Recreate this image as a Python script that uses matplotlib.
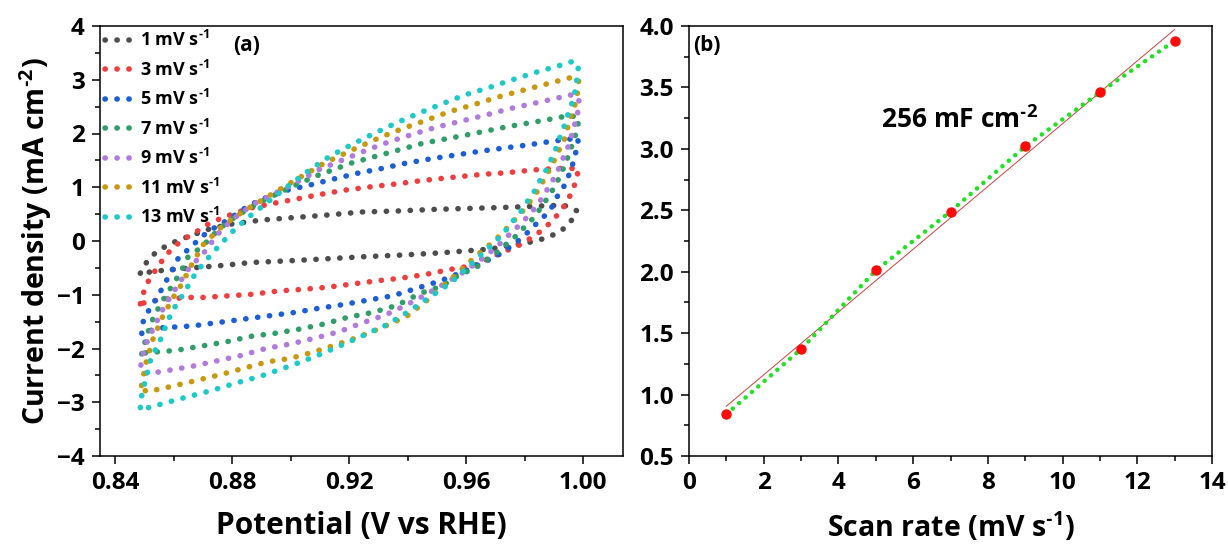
import numpy as np
import matplotlib
matplotlib.use('Agg')
import matplotlib.pyplot as plt
from matplotlib.ticker import MultipleLocator

plt.rcParams['font.family'] = ['Open Sans', 'DejaVu Sans']
plt.rcParams['font.weight'] = 'bold'
plt.rcParams['mathtext.fontset'] = 'custom'
plt.rcParams['mathtext.rm'] = 'Open Sans:bold'
plt.rcParams['mathtext.bf'] = 'Open Sans:bold'
plt.rcParams['mathtext.it'] = 'Open Sans:bold'

HY = '\u2010'  # short hyphen for the superscripts

# ---- panel (a): CV loops (V vs RHE, mA cm-2) ----
v_1 = [0.8485, 0.8506, 0.8533, 0.8568, 0.8609, 0.8648, 0.872, 0.879, 0.890, 0.9117, 0.9245,
       0.9372, 0.950, 0.9635, 0.976, 0.9893, 0.9937, 0.998, 0.996, 0.9928, 0.9889, 0.9851,
       0.9812, 0.977, 0.9682, 0.9514, 0.9387, 0.9259, 0.9125, 0.8988, 0.8863, 0.8777, 0.864,
       0.8557, 0.8485]
j_1 = [-0.60, -0.40, -0.24, -0.11, 0.00, 0.08, 0.22, 0.31, 0.39, 0.48, 0.54, 0.56, 0.59,
       0.61, 0.63, 0.66, 0.66, 0.56, 0.38, 0.20, 0.09, 0.02, -0.03, -0.07, -0.15, -0.22,
       -0.26, -0.29, -0.33, -0.37, -0.40, -0.45, -0.51, -0.55, -0.60]

v_3 = [0.8485, 0.8496, 0.8513, 0.8536, 0.8559, 0.8584, 0.8611, 0.8645, 0.8682, 0.8708, 0.876,
       0.8815, 0.8868, 0.894, 0.9018, 0.9104, 0.919, 0.9276, 0.9358, 0.9442, 0.9528, 0.9654,
       0.974, 0.9824, 0.991, 0.9985, 0.9977, 0.9963, 0.9943, 0.992, 0.9892, 0.986, 0.9826,
       0.9789, 0.9751, 0.970, 0.9629, 0.9545, 0.9463, 0.9379, 0.9296, 0.921, 0.9127, 0.9041,
       0.8957, 0.8871, 0.8786, 0.870, 0.8651, 0.857, 0.852, 0.8485]
j_3 = [-1.17, -0.96, -0.74, -0.55, -0.37, -0.20, -0.06, 0.07, 0.19, 0.29, 0.42, 0.53, 0.62,
       0.70, 0.78, 0.87, 0.95, 1.01, 1.06, 1.12, 1.17, 1.24, 1.27, 1.32, 1.35, 1.35, 1.13,
       0.92, 0.71, 0.53, 0.36, 0.20, 0.07, -0.06, -0.15, -0.27, -0.45, -0.53, -0.62, -0.69,
       -0.74, -0.80, -0.86, -0.90, -0.93, -0.99, -1.02, -1.05, -1.05, -1.08, -1.12, -1.17]

v_5 = [0.849, 0.8493, 0.8515, 0.854, 0.856, 0.8588, 0.8614, 0.865, 0.868, 0.8715, 0.8787,
       0.884, 0.8892, 0.8983, 0.9064, 0.9144, 0.9228, 0.9312, 0.9396, 0.948, 0.9565, 0.9648,
       0.9731, 0.9816, 0.9899, 0.9947, 0.9985, 0.9977, 0.9968, 0.9954, 0.9939, 0.9916, 0.9896,
       0.9871, 0.9842, 0.9813, 0.9782, 0.9748, 0.971, 0.9666, 0.9591, 0.9513, 0.9431, 0.9348,
       0.9264, 0.9182, 0.9098, 0.9012, 0.8914, 0.8829, 0.8747, 0.8663, 0.8545, 0.849]
j_5 = [-1.72, -1.52, -1.28, -1.07, -0.88, -0.60, -0.33, -0.15, 0.00, 0.17, 0.40, 0.60, 0.76,
       0.94, 1.04, 1.15, 1.26, 1.35, 1.45, 1.53, 1.60, 1.67, 1.73, 1.79, 1.86, 1.89, 1.92,
       1.69, 1.48, 1.26, 1.05, 0.87, 0.65, 0.48, 0.33, 0.17, 0.02, -0.12, -0.26, -0.38, -0.57,
       -0.74, -0.88, -1.02, -1.10, -1.18, -1.25, -1.33, -1.40, -1.46, -1.52, -1.58, -1.62, -1.72]

v_7 = [0.849, 0.850, 0.8513, 0.853, 0.856, 0.8593, 0.8623, 0.8648, 0.8695, 0.8727, 0.876,
       0.881, 0.8889, 0.900, 0.9087, 0.9207, 0.9327, 0.9453, 0.958, 0.9662, 0.9745, 0.9829,
       0.9913, 0.9954, 0.9986, 0.998, 0.9954, 0.9939, 0.9922, 0.9901, 0.988, 0.9856, 0.9831,
       0.9802, 0.977, 0.9737, 0.9705, 0.9637, 0.9568, 0.9528, 0.9486, 0.9444, 0.9405, 0.9362,
       0.9279, 0.9195, 0.9109, 0.9029, 0.8943, 0.8867, 0.8784, 0.870, 0.8612, 0.8557, 0.851,
       0.849]
j_7 = [-2.10, -1.90, -1.67, -1.42, -1.12, -0.84, -0.58, -0.30, -0.11, 0.07, 0.25, 0.45, 0.71,
       1.00, 1.21, 1.45, 1.63, 1.82, 1.95, 2.04, 2.13, 2.21, 2.29, 2.34, 2.29, 2.07, 1.64,
       1.43, 1.21, 0.99, 0.81, 0.62, 0.43, 0.27, 0.09, -0.06, -0.21, -0.48, -0.66, -0.80,
       -0.90, -0.97, -1.08, -1.20, -1.33, -1.42, -1.55, -1.64, -1.72, -1.77, -1.87, -1.95,
       -2.03, -2.06, -2.07, -2.10]

v_9 = [0.8487, 0.8495, 0.8507, 0.853, 0.8567, 0.861, 0.865, 0.8705, 0.8752, 0.880, 0.887,
       0.8995, 0.9098, 0.9259, 0.9339, 0.9419, 0.950, 0.9583, 0.9665, 0.9748, 0.9831, 0.9913,
       0.9955, 0.9986, 0.9986, 0.9978, 0.9952, 0.9935, 0.992, 0.9901, 0.9878, 0.9855, 0.9832,
       0.9803, 0.9772, 0.974, 0.9709, 0.965, 0.958, 0.9471, 0.9396, 0.9322, 0.9241, 0.9164,
       0.9081, 0.8995, 0.8914, 0.883, 0.8747, 0.8663, 0.8578, 0.8533, 0.8494, 0.8487]
j_9 = [-2.31, -2.10, -1.89, -1.62, -1.22, -0.85, -0.52, -0.20, 0.14, 0.40, 0.68, 1.02, 1.33,
       1.69, 1.85, 1.99, 2.12, 2.23, 2.34, 2.46, 2.56, 2.66, 2.72, 2.67, 2.49, 2.29, 1.79,
       1.58, 1.38, 1.17, 0.96, 0.76, 0.59, 0.41, 0.24, 0.08, -0.09, -0.35, -0.62, -0.97,
       -1.19, -1.38, -1.53, -1.69, -1.81, -1.92, -2.00, -2.13, -2.23, -2.33, -2.41, -2.45,
       -2.46, -2.31]

v_11 = [0.8489, 0.8497, 0.8505, 0.8528, 0.8562, 0.8604, 0.8625, 0.866, 0.870, 0.873, 0.8758,
        0.881, 0.887, 0.899, 0.9115, 0.9228, 0.9307, 0.9387, 0.9465, 0.9545, 0.9628, 0.971,
        0.9792, 0.9875, 0.9958, 0.9986, 0.9978, 0.9958, 0.9948, 0.9938, 0.9917, 0.990, 0.988,
        0.9858, 0.9838, 0.9813, 0.9787, 0.9755, 0.9728, 0.9698, 0.963, 0.955, 0.9467, 0.9397,
        0.932, 0.9241, 0.9161, 0.9081, 0.9001, 0.8919, 0.8837, 0.8757, 0.8672, 0.8588, 0.8548,
        0.8504, 0.8489]
j_11 = [-2.69, -2.47, -2.26, -1.83, -1.40, -0.99, -0.82, -0.45, -0.07, 0.09, 0.24, 0.45, 0.66,
        1.05, 1.45, 1.74, 1.93, 2.10, 2.25, 2.41, 2.54, 2.68, 2.80, 2.92, 3.04, 3.01, 2.62,
        2.31, 2.12, 1.91, 1.68, 1.48, 1.27, 1.06, 0.87, 0.69, 0.51, 0.33, 0.17, 0.01, -0.30,
        -0.70, -1.10, -1.40, -1.59, -1.77, -1.92, -2.06, -2.18, -2.25, -2.37, -2.49, -2.60,
        -2.71, -2.76, -2.80, -2.69]

v_13 = [0.8485, 0.849, 0.850, 0.8512, 0.8522, 0.854, 0.8557, 0.8574, 0.8591, 0.8612, 0.8636,
        0.8656, 0.8678, 0.8707, 0.8736, 0.8763, 0.8805, 0.8857, 0.8995, 0.9064, 0.9132, 0.9207,
        0.9281, 0.9358, 0.9439, 0.9517, 0.9597, 0.9676, 0.9758, 0.984, 0.9923, 0.9964, 0.9985,
        0.9974, 0.9964, 0.995, 0.9936, 0.9922, 0.9908, 0.9891, 0.9874, 0.985, 0.9833, 0.9809,
        0.9785, 0.9757, 0.9729, 0.970, 0.9669, 0.9603, 0.9547, 0.9474, 0.9401, 0.9328, 0.9251,
        0.9177, 0.9096, 0.9035, 0.8974, 0.8894, 0.8814, 0.873, 0.8646, 0.8558, 0.852, 0.8485]
j_13 = [-3.10, -2.87, -2.64, -2.40, -2.17, -1.99, -1.80, -1.56, -1.34, -1.15, -0.96, -0.76,
        -0.57, -0.38, -0.20, -0.04, 0.20, 0.45, 1.04, 1.32, 1.57, 1.79, 1.99, 2.19, 2.38, 2.55,
        2.72, 2.85, 3.00, 3.14, 3.27, 3.34, 3.27, 2.81, 2.59, 2.38, 2.14, 1.94, 1.73, 1.52,
        1.32, 1.10, 0.92, 0.73, 0.53, 0.35, 0.15, -0.01, -0.17, -0.50, -0.78, -1.05, -1.32,
        -1.56, -1.75, -1.93, -2.12, -2.25, -2.37, -2.52, -2.64, -2.78, -2.90, -3.03, -3.10,
        -3.10]

cv_rates = ['1', '3', '5', '7', '9', '11', '13']
cv_colors = ['#4d4d4d', '#ef3e3e', '#1c5fd4', '#2f9e68', '#b17bdd', '#c8980f', '#1dc9c9']
cv_v = [v_1, v_3, v_5, v_7, v_9, v_11, v_13]
cv_j = [j_1, j_3, j_5, j_7, j_9, j_11, j_13]

# ---- panel (b): current vs scan rate ----
scan_rate = np.array([1, 3, 5, 7, 9, 11, 13])
current = np.array([0.84, 1.37, 2.01, 2.49, 3.02, 3.46, 3.88])

fig = plt.figure(figsize=(12.28, 5.48), dpi=100)
ax1 = fig.add_axes([100 / 1228, 92 / 548, 523 / 1228, 430 / 548])
ax2 = fig.add_axes([689 / 1228, 92 / 548, 523 / 1228, 430 / 548])

for v, j, c, r in zip(cv_v, cv_j, cv_colors, cv_rates):
    ax1.plot(v, j, color=c, lw=4, linestyle=(0, (0.05, 2.1)),
             dash_capstyle='round', label=r + ' mV s$^{' + HY + '1}$')

ax1.set_xlim(0.8347, 1.0137)
ax1.set_ylim(-4, 4)
ax1.xaxis.set_minor_locator(MultipleLocator(0.02))
ax1.yaxis.set_major_locator(MultipleLocator(1))
ax1.yaxis.set_minor_locator(MultipleLocator(0.5))
ax1.set_xticks([0.84, 0.88, 0.92, 0.96, 1.00])
ax1.set_xticklabels(['0.84', '0.88', '0.92', '0.96', '1.00'])
ax1.set_xlabel('Potential (V vs RHE)', fontsize=21.5, fontweight='bold', labelpad=11)
ax1.set_ylabel('Current density (mA cm$^{' + HY + '2}$)', fontsize=20.5, fontweight='bold',
               labelpad=2)
ax1.text(0.28, 0.955, '(a)', transform=ax1.transAxes, fontsize=15, fontweight='bold',
         ha='center', va='center')
leg = ax1.legend(loc='upper left', bbox_to_anchor=(-0.015, 1.02), frameon=False,
                 fontsize=13, handlelength=1.4, handletextpad=0.55, labelspacing=0.52,
                 borderaxespad=0.3)
for t in leg.get_texts():
    t.set_fontweight('bold')

# fitted line through the points
slope, icpt = np.polyfit(scan_rate, current, 1)
xfit = np.array([scan_rate[0], scan_rate[-1]])
ax2.plot(xfit, slope * xfit + icpt, color='#d04040', lw=0.7, zorder=2)
ax2.plot(scan_rate, current, color='#22e022', lw=3.2, linestyle=(0, (0.05, 1.85)),
         dash_capstyle='round', zorder=3)
ax2.plot(scan_rate, current, 'o', color='#ff0a0a', ms=6.5, zorder=4)

ax2.set_xlim(0, 14)
ax2.set_ylim(0.5, 4.0)
ax2.xaxis.set_major_locator(MultipleLocator(2))
ax2.xaxis.set_minor_locator(MultipleLocator(1))
ax2.yaxis.set_major_locator(MultipleLocator(0.5))
ax2.yaxis.set_minor_locator(MultipleLocator(0.25))
ax2.yaxis.set_major_formatter(plt.FormatStrFormatter('%.1f'))
ax2.set_xlabel('Scan rate (mV s$^{' + HY + '1}$)', fontsize=20.5, fontweight='bold',
               labelpad=11)
ax2.text(0.035, 0.955, '(b)', transform=ax2.transAxes, fontsize=15, fontweight='bold',
         ha='center', va='center')
ax2.text(0.518, 0.781, '256 mF cm$^{' + HY + '2}$', transform=ax2.transAxes, fontsize=19,
         fontweight='bold', ha='center', va='center')

for ax in (ax1, ax2):
    for s in ax.spines.values():
        s.set_linewidth(1.1)
    ax.tick_params(which='both', direction='out', top=False, right=False, width=1.1,
                   labelsize=17.5)
    ax.tick_params(which='major', length=6, pad=5)
    ax.tick_params(which='minor', length=3.5)
    for lab in ax.get_xticklabels() + ax.get_yticklabels():
        lab.set_fontweight('bold')

fig.savefig('out.png', dpi=100)
